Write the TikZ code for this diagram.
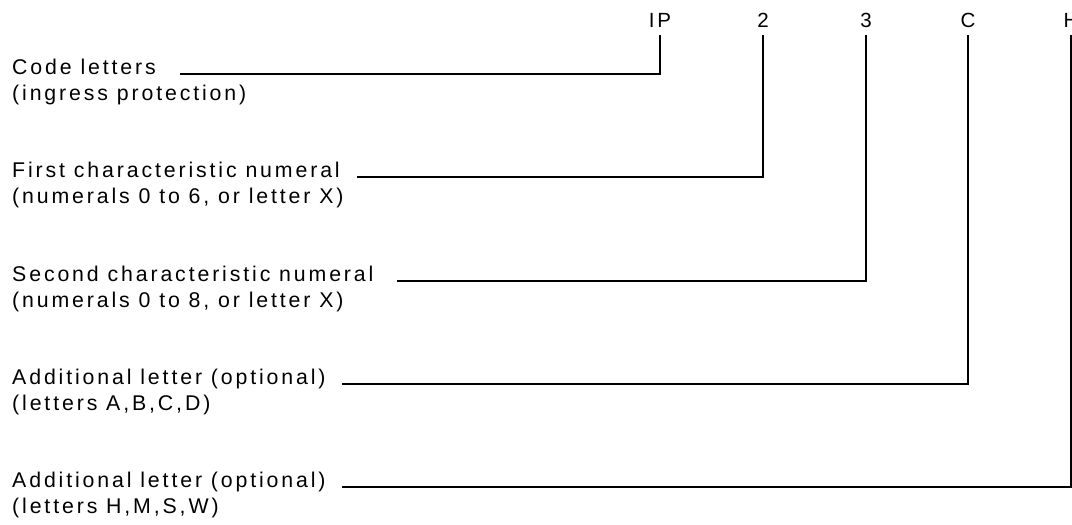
\documentclass[tikz,border=0pt]{standalone}
\usepackage{fontspec}
\setmainfont{Liberation Sans}[LetterSpace=13.5]
\begin{document}
\begin{tikzpicture}[x=1pt,y=-1pt,
  lbl/.style={anchor=base west, inner sep=0pt, font=\fontsize{21.3}{27}\selectfont},
  toplbl/.style={anchor=base, inner sep=0pt, font=\fontsize{20.5}{27}\selectfont},
  conn/.style={line width=2pt, line join=miter, shorten >=8pt}]
\useasboundingbox (0,0) rectangle (1072,525);
% top code characters
\node[toplbl] (t1) at (660,27) {IP};
\node[toplbl] (t2) at (763,27) {2};
\node[toplbl] (t3) at (866,27) {3};
\node[toplbl] (t4) at (968,27) {C};
\node[toplbl] (t5) at (1071,27) {H};
% labels
\node[lbl] (a1) at (12,74) {Code letters};
\node[lbl] (b1) at (12,100) {(ingress protection)};
\node[lbl] (a2) at (12,177) {First characteristic numeral};
\node[lbl] (b2) at (12,203) {(numerals 0 to 6, or letter X)};
\node[lbl] (a3) at (12,281) {Second characteristic numeral};
\node[lbl] (b3) at (12,307) {(numerals 0 to 8, or letter X)};
\node[lbl] (a4) at (12,384) {Additional letter (optional)};
\node[lbl] (b4) at (12,410) {(letters A,B,C,D)};
\node[lbl] (a5) at (12,487) {Additional letter (optional)};
\node[lbl] (b5) at (12,513) {(letters H,M,S,W)};
% connector start points
\coordinate (s1) at (180,74);
\coordinate (s2) at (357,177);
\coordinate (s3) at (397,281);
\coordinate (s4) at (342,384);
\coordinate (s5) at (342,487);
\draw[conn] (s1) -| (t1.south);
\draw[conn] (s2) -| (t2.south);
\draw[conn] (s3) -| (t3.south);
\draw[conn] (s4) -| (t4.south);
\draw[conn] (s5) -| (t5.south);
\end{tikzpicture}
\end{document}
